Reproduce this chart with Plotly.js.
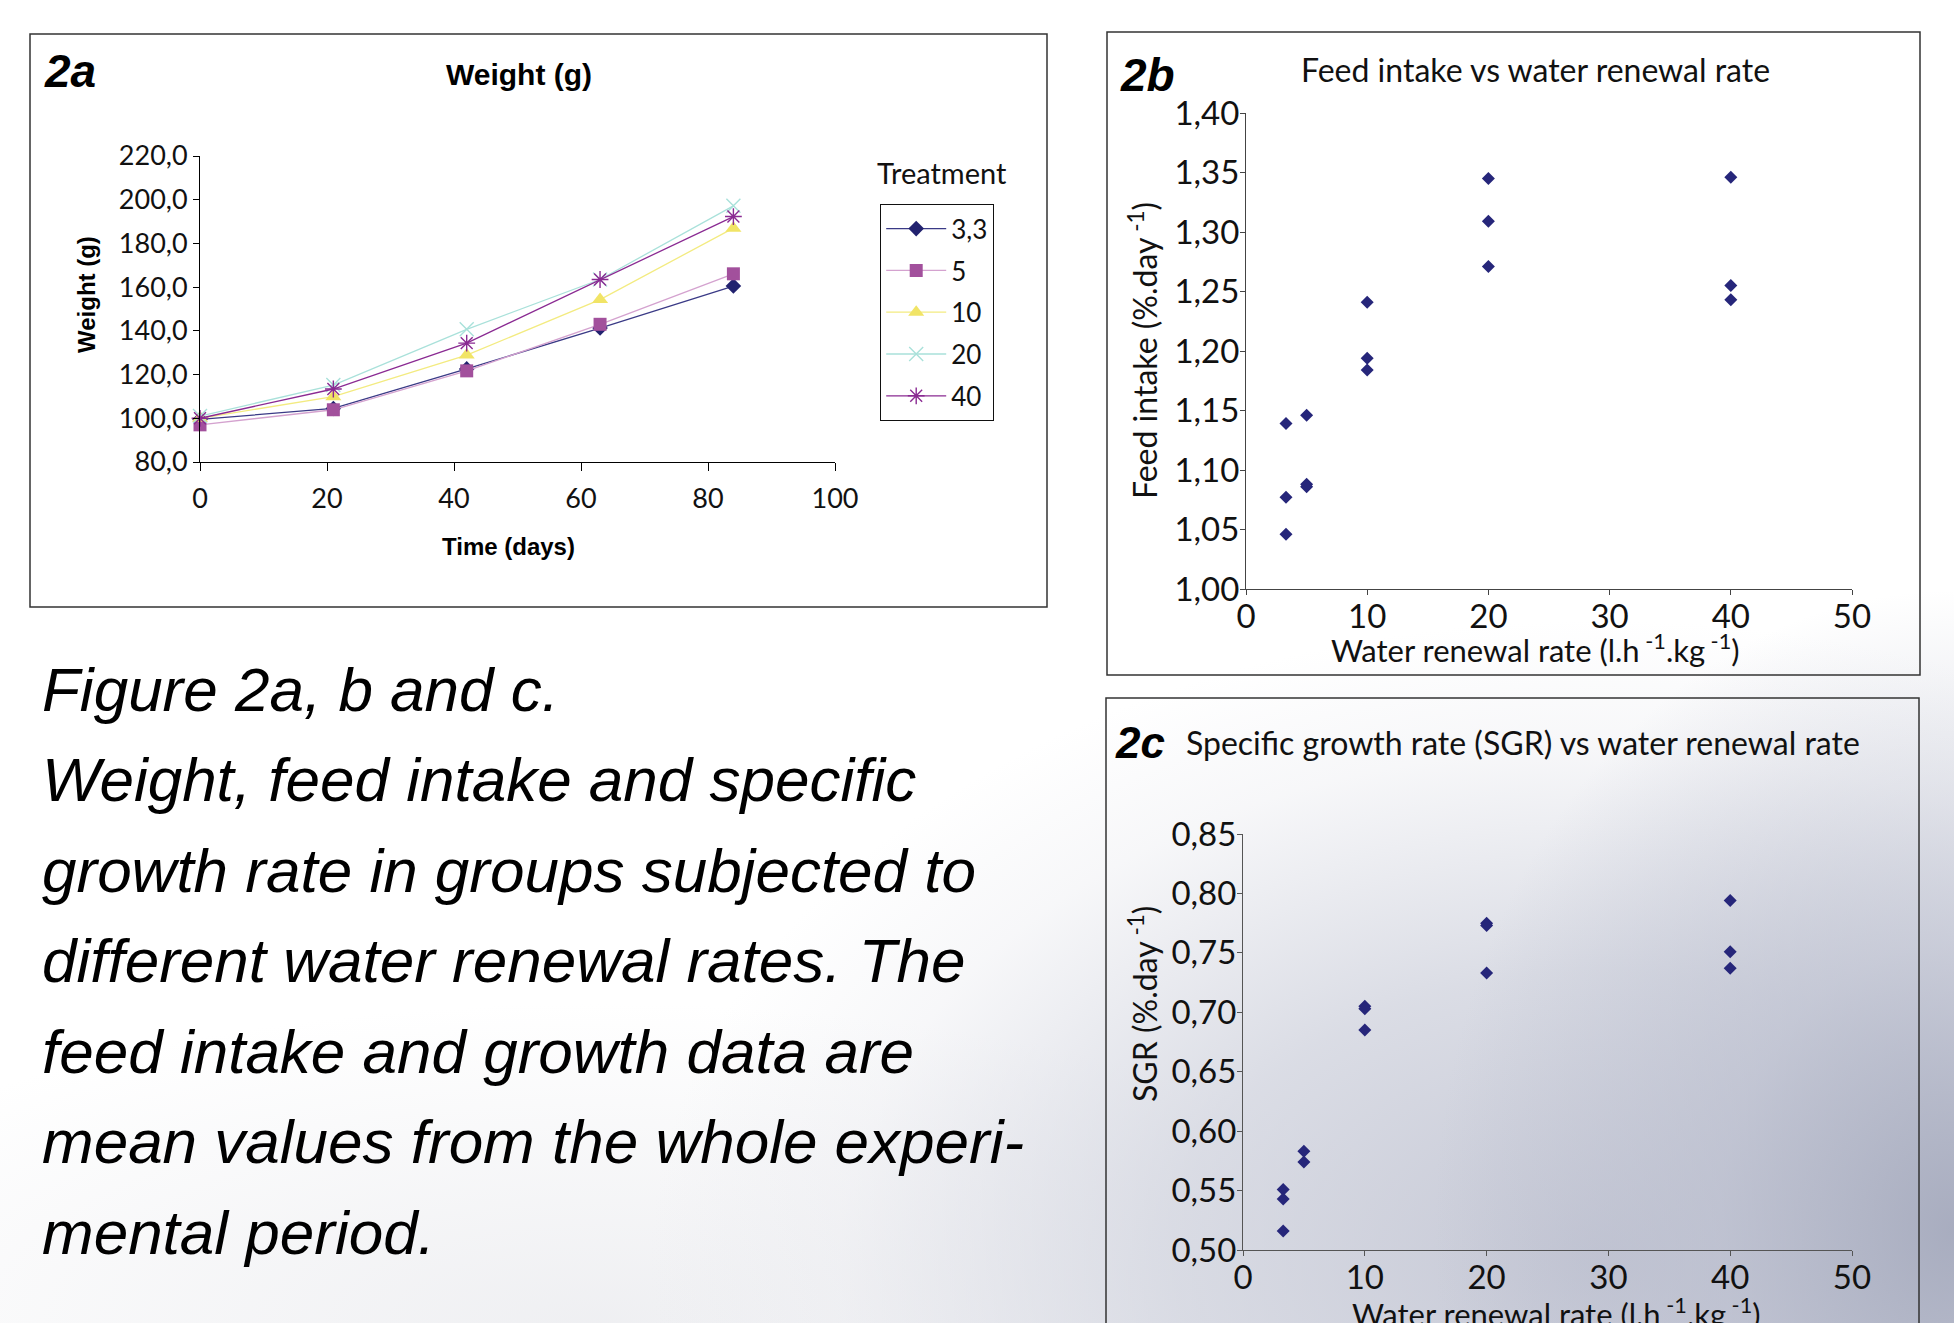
<!DOCTYPE html>
<html>
<head>
<meta charset="utf-8">
<script src="https://cdn.plot.ly/plotly-3.0.1.min.js"></script>
<style>
html, body { margin: 0; padding: 0; }
body {
  width: 1954px; height: 1323px; overflow: hidden;
  background:
    radial-gradient(ellipse 520px 640px at 1954px 1230px, rgba(160,165,185,0.85) 0%, rgba(182,186,203,0.6) 45%, rgba(255,255,255,0) 100%),
    radial-gradient(ellipse 950px 640px at 1600px 1260px, rgba(190,193,208,0.9) 0%, rgba(203,206,218,0.7) 45%, rgba(228,229,235,0.3) 80%, rgba(255,255,255,0) 100%),
    radial-gradient(ellipse 900px 320px at 600px 1323px, rgba(225,226,231,0.55) 0%, rgba(255,255,255,0) 100%),
    #ffffff;
}
#chart { width: 1954px; height: 1323px; }
</style>
</head>
<body>
<div id="chart"></div>
<script>
// ---- Figure 2a : weight over time ----
const days = [0, 21, 42, 63, 84];
const treatmentNames = ['3,3', '5', '10', '20', '40'];
const weight_3_3 = [99.5, 104.5, 122.6, 141.3, 160.5];
const weight_5   = [97.0, 103.9, 121.7, 143.0, 166.1];
const weight_10  = [100.0, 109.9, 128.9, 154.3, 187.0];
const weight_20  = [101.0, 115.2, 140.7, 163.5, 197.2];
const weight_40  = [100.0, 113.4, 134.4, 163.5, 192.3];

// ---- Figure 2b : feed intake vs water renewal rate ----
const renewalRateFI = [3.3, 3.3, 3.3, 5, 5, 5, 10, 10, 10, 20, 20, 20, 40, 40, 40];
const feedIntake    = [1.139, 1.077, 1.046, 1.146, 1.088, 1.086, 1.241, 1.194, 1.184, 1.345, 1.309, 1.271, 1.346, 1.255, 1.243];

// ---- Figure 2c : SGR vs water renewal rate ----
const renewalRateSGR = [3.3, 3.3, 3.3, 5, 5, 10, 10, 10, 20, 20, 20, 40, 40, 40];
const sgr            = [0.551, 0.543, 0.516, 0.583, 0.574, 0.705, 0.703, 0.685, 0.775, 0.773, 0.733, 0.794, 0.751, 0.737];

const W = 1954, H = 1323;
const px = v => v / W;
const py = v => 1 - v / H;

const FONT = 'Lato, "Open Sans", sans-serif';
const ARIAL = '"Liberation Sans", Arial, sans-serif';
const NAVY = '#26267a';

const weightSeries = [weight_3_3, weight_5, weight_10, weight_20, weight_40];
const lineColors   = ['#3a3a86', '#d4a2cf', '#f3eb80', '#a9e1da', '#8a2a92'];
const markerColors = ['#22226f', '#a2509c', '#f1e466', '#a9e1da', '#8a2a92'];
const symbols      = ['diamond', 'square', 'triangle-up', 'x-thin-open', 'asterisk-open'];
const msizes       = [12, 13, 14, 14, 14];

const traces = weightSeries.map((ys, i) => ({
  type: 'scatter', mode: 'lines+markers',
  x: days, y: ys, name: treatmentNames[i],
  xaxis: 'x', yaxis: 'y',
  legendgroup: 'g' + i,
  line: { color: lineColors[i], width: 1.3 },
  marker: { symbol: symbols[i], size: msizes[i], color: markerColors[i],
            line: { color: markerColors[i], width: (i >= 3 ? 1.4 : 0) } },
  cliponaxis: false
}));

traces.push({
  type: 'scatter', mode: 'markers', x: renewalRateFI, y: feedIntake,
  xaxis: 'x2', yaxis: 'y2', showlegend: false,
  marker: { symbol: 'diamond', size: 10, color: NAVY }, cliponaxis: false
});
traces.push({
  type: 'scatter', mode: 'markers', x: renewalRateSGR, y: sgr,
  xaxis: 'x3', yaxis: 'y3', showlegend: false,
  marker: { symbol: 'diamond', size: 10, color: NAVY }, cliponaxis: false
});

const axisBase = {
  showgrid: false, zeroline: false, showline: true, ticks: 'outside',
  linewidth: 1, tickwidth: 1, fixedrange: true
};

const layout = {
  width: W, height: H,
  margin: { l: 0, r: 0, t: 0, b: 0, pad: 0 },
  paper_bgcolor: 'rgba(0,0,0,0)', plot_bgcolor: 'rgba(0,0,0,0)',
  separators: ',.',
  font: { family: FONT, color: '#111' },
  showlegend: true,
  legend: {
    x: px(880), y: py(204), xanchor: 'left', yanchor: 'top',
    bordercolor: '#111', borderwidth: 1.2, bgcolor: 'rgba(255,255,255,0)',
    font: { family: FONT, size: 26, color: '#111' },
    tracegroupgap: 5, itemwidth: 60, traceorder: 'grouped'
  },
  xaxis: Object.assign({}, axisBase, {
    domain: [px(200), px(835)], range: [0, 100], dtick: 20, tick0: 0,
    anchor: 'y', linecolor: '#000', tickcolor: '#000', ticklen: 8, ticklabelstandoff: 5,
    tickfont: { family: FONT, size: 27, color: '#111' }
  }),
  yaxis: Object.assign({}, axisBase, {
    domain: [py(462), py(156)], range: [80, 220], dtick: 20, tick0: 80,
    anchor: 'x', linecolor: '#000', tickcolor: '#000', ticklen: 6, tickformat: '.1f',
    tickfont: { family: FONT, size: 27, color: '#111' }
  }),
  xaxis2: Object.assign({}, axisBase, {
    domain: [px(1246), px(1852)], range: [0, 50], dtick: 10, tick0: 0,
    anchor: 'y2', linecolor: '#444', tickcolor: '#444', ticklen: 5, ticklabelstandoff: -7,
    tickfont: { family: FONT, size: 33, color: '#111' }
  }),
  yaxis2: Object.assign({}, axisBase, {
    domain: [py(589), py(113)], range: [1.0, 1.4], dtick: 0.05, tick0: 1.0,
    anchor: 'x2', linecolor: '#444', tickcolor: '#444', ticklen: 5, tickformat: '.2f', ticklabelstandoff: -6,
    tickfont: { family: FONT, size: 33, color: '#111' }
  }),
  xaxis3: Object.assign({}, axisBase, {
    domain: [px(1243), px(1852)], range: [0, 50], dtick: 10, tick0: 0,
    anchor: 'y3', linecolor: '#555', tickcolor: '#555', ticklen: 5, ticklabelstandoff: -7,
    tickfont: { family: FONT, size: 33, color: '#111' }
  }),
  yaxis3: Object.assign({}, axisBase, {
    domain: [py(1250), py(834)], range: [0.5, 0.85], dtick: 0.05, tick0: 0.5,
    anchor: 'x3', linecolor: '#555', tickcolor: '#555', ticklen: 5, tickformat: '.2f', ticklabelstandoff: -6,
    tickfont: { family: FONT, size: 33, color: '#111' }
  }),
  shapes: [
    { type: 'rect', xref: 'paper', yref: 'paper', x0: px(30), x1: px(1047), y0: py(607), y1: py(34), line: { color: '#333', width: 1.5 } },
    { type: 'rect', xref: 'paper', yref: 'paper', x0: px(1107), x1: px(1920), y0: py(675), y1: py(32), line: { color: '#333', width: 1.5 } },
    { type: 'rect', xref: 'paper', yref: 'paper', x0: px(1106), x1: px(1919), y0: -0.05, y1: py(698), line: { color: '#333', width: 1.5 } }
  ],
  annotations: []
};

function ann(text, x, y, opts) {
  layout.annotations.push(Object.assign({
    text: text, xref: 'paper', yref: 'paper', x: px(x), y: py(y),
    xanchor: 'center', yanchor: 'middle', showarrow: false
  }, opts));
}

// panel labels
const LBL = { family: ARIAL, size: 46, color: '#000' };
ann('<b><i>2a</i></b>', 70, 71, { font: LBL });
ann('<b><i>2b</i></b>', 1147, 75, { font: LBL });
ann('<b><i>2c</i></b>', 1140, 742, { font: Object.assign({}, LBL, { size: 44 }) });

// panel titles
ann('<b>Weight (g)</b>', 519, 75, { font: { family: ARIAL, size: 30, color: '#000' } });
ann('Feed intake vs water renewal rate', 1535, 69, { font: { family: FONT, size: 32, color: '#111' } });
ann('Specific growth rate (SGR) vs water renewal rate', 1184, 742, { xanchor: 'left', font: { family: FONT, size: 32, color: '#111' } });

// axis titles
ann('<b>Time (days)</b>', 508, 546, { font: { family: ARIAL, size: 24, color: '#000' } });
ann('<b>Weight (g)</b>', 87, 295, { textangle: -90, font: { family: ARIAL, size: 24, color: '#000' } });
const waterTitle = 'Water renewal rate (l.h<sup> -1</sup>.kg<sup> -1</sup>)';
ann(waterTitle, 1535, 648, { font: { family: FONT, size: 31, color: '#111' } });
ann('Feed intake (%.day<sup> -1</sup>)', 1143, 351, { textangle: -90, font: { family: FONT, size: 32, color: '#111' } });
ann(waterTitle, 1556, 1312, { font: { family: FONT, size: 31, color: '#111' } });
ann('SGR (%.day<sup> -1</sup>)', 1143, 1004, { textangle: -90, font: { family: FONT, size: 32, color: '#111' } });

// legend heading
ann('Treatment', 942, 172, { font: { family: FONT, size: 29, color: '#111' } });

// caption
const captionLines = [
  'Figure 2a, b and c.',
  'Weight, feed intake and specific',
  'growth rate in groups subjected to',
  'different water renewal rates. The',
  'feed intake and growth data are',
  'mean values from the whole experi-',
  'mental period.'
];
captionLines.forEach((t, i) => {
  ann('<i>' + t + '</i>', 40, 689 + i * 90.5, { xanchor: 'left', font: { family: ARIAL, size: 62, color: '#000' } });
});

Plotly.newPlot('chart', traces, layout, { displayModeBar: false, staticPlot: true });
</script>
</body>
</html>
